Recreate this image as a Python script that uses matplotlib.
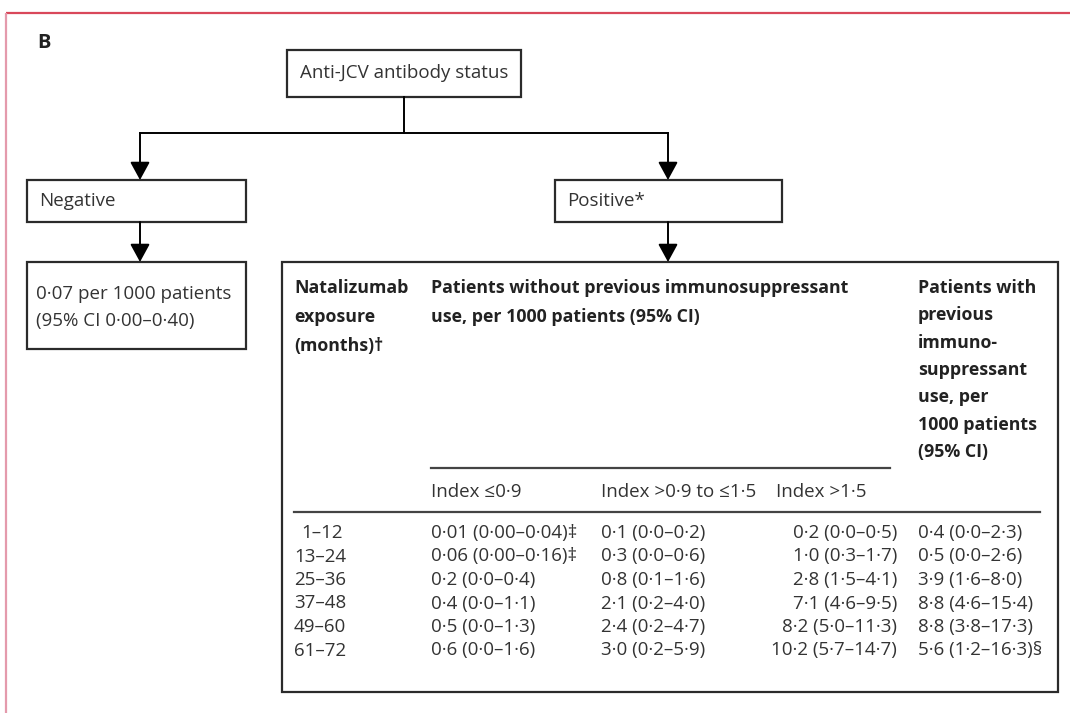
import matplotlib.pyplot as plt
from matplotlib.patches import Rectangle

plt.rcParams['font.family'] = ['Open Sans', 'DejaVu Sans']

# table content
exposure = ['1–12', '13–24', '25–36', '37–48', '49–60', '61–72']
index_low = ['0·01 (0·00–0·04)‡', '0·06 (0·00–0·16)‡', '0·2 (0·0–0·4)',
             '0·4 (0·0–1·1)', '0·5 (0·0–1·3)', '0·6 (0·0–1·6)']
index_mid = ['0·1 (0·0–0·2)', '0·3 (0·0–0·6)', '0·8 (0·1–1·6)',
             '2·1 (0·2–4·0)', '2·4 (0·2–4·7)', '3·0 (0·2–5·9)']
index_high = ['0·2 (0·0–0·5)', '1·0 (0·3–1·7)', '2·8 (1·5–4·1)',
              '7·1 (4·6–9·5)', '8·2 (5·0–11·3)', '10·2 (5·7–14·7)']
prior_is = ['0·4 (0·0–2·3)', '0·5 (0·0–2·6)', '3·9 (1·6–8·0)',
            '8·8 (4·6–15·4)', '8·8 (3·8–17·3)', '5·6 (1·2–16·3)§']
sub_headers = ['Index ≤0·9', 'Index >0·9 to ≤1·5', 'Index >1·5']

TXT = '#333333'
EDGE = '#2b2b2b'
FS = 13.5    # regular text
FB = 12.8    # bold header text

fig = plt.figure(figsize=(10.7, 7.13), dpi=100)
ax = fig.add_axes([0, 0, 1, 1])
ax.set_xlim(0, 1070)
ax.set_ylim(713, 0)
ax.axis('off')

# red frame of the panel
ax.plot([6, 1070], [13, 13], color='#d9485a', lw=1.6, solid_capstyle='butt')
ax.plot([6, 6], [13, 713], color='#e49aac', lw=1.6, solid_capstyle='butt')

ax.text(37, 43, 'B', fontsize=14.5, fontweight='bold', color='#222222',
        va='center', ha='left')


def box(x0, y0, x1, y1):
    ax.add_patch(Rectangle((x0, y0), x1 - x0, y1 - y0, fill=False,
                           edgecolor=EDGE, lw=1.6))


def arrow(x, y0, y1):
    ax.annotate('', xy=(x, y1), xytext=(x, y0),
                arrowprops=dict(arrowstyle='-|>,head_length=0.55,head_width=0.3',
                                color='black', lw=1.4, mutation_scale=20,
                                shrinkA=0, shrinkB=0))


# flow boxes
box(287, 50, 521, 97)
ax.text(404, 73, 'Anti-JCV antibody status', fontsize=FS, color=TXT,
        ha='center', va='center')
ax.plot([404, 404], [97, 133], color='black', lw=1.4)
ax.plot([140, 668], [133, 133], color='black', lw=1.4)
arrow(140, 133, 180)
arrow(668, 133, 180)

box(27, 180, 246, 222)
ax.text(39, 201, 'Negative', fontsize=FS, color=TXT, va='center')
box(555, 180, 782, 222)
ax.text(567, 201, 'Positive*', fontsize=FS, color=TXT, va='center')
arrow(140, 222, 262)
arrow(668, 222, 262)

box(27, 262, 246, 349)
ax.text(36, 294, '0·07 per 1000 patients', fontsize=FS, color=TXT, va='center')
ax.text(36, 321, '(95% CI 0·00–0·40)', fontsize=FS, color=TXT, va='center')

# table
box(282, 262, 1058, 692)
hdr = dict(fontsize=FB, fontweight='bold', color='#222222', va='center')
for i, s in enumerate(['Natalizumab', 'exposure', '(months)†']):
    ax.text(294, 288 + i * 29, s, **hdr)
ax.text(431, 288, 'Patients without previous immunosuppressant', **hdr)
ax.text(431, 317, 'use, per 1000 patients (95% CI)', **hdr)
for i, s in enumerate(['Patients with', 'previous', 'immuno-', 'suppressant',
                       'use, per', '1000 patients', '(95% CI)']):
    ax.text(918, 288 + i * 27.3, s, **hdr)

ax.plot([431, 890], [468, 468], color='#444444', lw=1.6)
for x, s in zip([431, 601, 776], sub_headers):
    ax.text(x, 492, s, fontsize=FS, color=TXT, va='center')
ax.plot([294, 1040], [512, 512], color='#444444', lw=1.6)

for r in range(len(exposure)):
    y = 533 + r * 23.5
    ax.text(294 if len(exposure[r]) > 4 else 301, y, exposure[r],
            fontsize=FS, color=TXT, va='center')
    ax.text(431, y, index_low[r], fontsize=FS, color=TXT, va='center')
    ax.text(601, y, index_mid[r], fontsize=FS, color=TXT, va='center')
    ax.text(897, y, index_high[r], fontsize=FS, color=TXT, va='center', ha='right')
    ax.text(918, y, prior_is[r], fontsize=FS, color=TXT, va='center')

fig.savefig('out.png', dpi=100)
